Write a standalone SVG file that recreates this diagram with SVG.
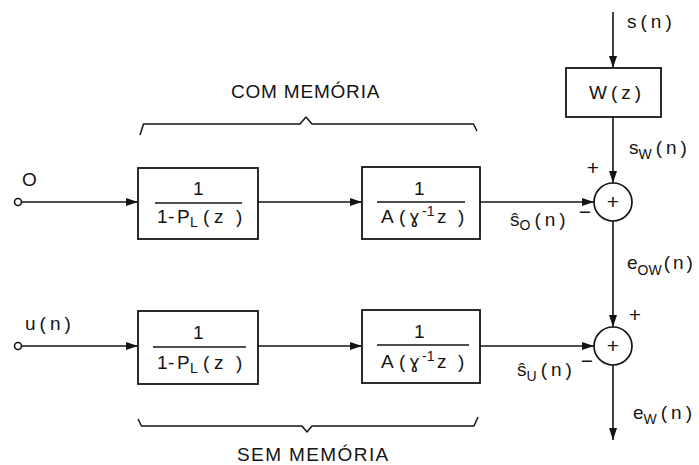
<svg xmlns="http://www.w3.org/2000/svg" width="699" height="465" viewBox="0 0 699 465">
  <style>
    .ln { stroke: #141414; stroke-width: 1.6; fill: none; }
    .box { fill: #ffffff; stroke: #141414; stroke-width: 1.8; }
    .sum { fill: #ffffff; stroke: #141414; stroke-width: 1.7; }
    .br { stroke: #141414; stroke-width: 1.5; fill: none; stroke-linejoin: round; }
    .t { font-family: "Liberation Sans", Arial, sans-serif; font-size: 19px; fill: #141414; }
    .sp { letter-spacing: 4px; }
    .sub { font-size: 14px; letter-spacing: 1px; }
    .g { font-family: "DejaVu Sans", sans-serif; font-size: 18px; }
    .sgn { font-family: "Liberation Sans", Arial, sans-serif; font-size: 21px; fill: #141414; text-anchor: middle; }
  </style>
  <defs>
    <marker id="arr" viewBox="0 0 12 8" refX="12" refY="4" markerWidth="12" markerHeight="8" markerUnits="userSpaceOnUse" orient="auto">
      <path d="M0,0 L12,4 L0,8 Z" fill="#141414"/>
    </marker>
  </defs>

  <rect width="699" height="465" fill="#ffffff"/>

  <!-- connectors -->
  <g id="connectors">
    <!-- upper path -->
    <circle cx="18" cy="202" r="3.5" class="ln"/>
    <line x1="21.5" y1="202" x2="138" y2="202" class="ln" marker-end="url(#arr)"/>
    <line x1="258" y1="202" x2="362" y2="202" class="ln" marker-end="url(#arr)"/>
    <line x1="480" y1="202" x2="594" y2="202" class="ln" marker-end="url(#arr)"/>
    <!-- lower path -->
    <circle cx="18" cy="346" r="3.5" class="ln"/>
    <line x1="21.5" y1="346" x2="138" y2="346" class="ln" marker-end="url(#arr)"/>
    <line x1="258" y1="346" x2="362" y2="346" class="ln" marker-end="url(#arr)"/>
    <line x1="480" y1="346" x2="594" y2="346" class="ln" marker-end="url(#arr)"/>
    <!-- vertical chain -->
    <line x1="613" y1="12" x2="613" y2="68" class="ln" marker-end="url(#arr)"/>
    <line x1="613" y1="117" x2="613" y2="183" class="ln" marker-end="url(#arr)"/>
    <line x1="613" y1="221" x2="613" y2="327" class="ln" marker-end="url(#arr)"/>
    <line x1="613" y1="365" x2="613" y2="440" class="ln" marker-end="url(#arr)"/>
  </g>

  <!-- brace over the upper path -->
  <g id="brace-com">
    <path class="br" d="M140,135 L143.5,124 L300,124 L306,117 L312,124 L473.5,124 L477,131"/>
    <text class="t" x="231" y="98" style="letter-spacing:0.8px">COM MEMÓRIA</text>
  </g>

  <!-- brace under the lower path -->
  <g id="brace-sem">
    <path class="br" d="M138,419 L141.5,426 L302,426 L307,432 L312,426 L474,426 L478,417"/>
    <text class="t" x="237" y="461" style="letter-spacing:1.4px">SEM MEMÓRIA</text>
  </g>

  <!-- input labels -->
  <g id="in-zero">
    <text class="t" x="22" y="186">O</text>
  </g>
  <g id="in-u">
    <text class="t sp" x="25" y="330">u(n)</text>
  </g>

  <!-- upper long-term predictor -->
  <g id="pl-upper">
    <rect class="box" x="138" y="168" width="120" height="71"/>
    <text class="t" x="193" y="195">1</text>
    <line x1="155" y1="203" x2="242" y2="203" class="ln" style="stroke-width:1.4"/>
    <text class="t" y="223"><tspan x="157">1</tspan><tspan x="168">-</tspan><tspan x="177">P</tspan><tspan x="190" dy="4" style="font-size:14px">L</tspan><tspan x="203" dy="-4">(</tspan><tspan x="214">z</tspan><tspan x="236">)</tspan></text>
  </g>

  <!-- upper synthesis filter -->
  <g id="syn-upper">
    <rect class="box" x="362" y="167" width="118" height="72"/>
    <text class="t" x="414" y="195">1</text>
    <line x1="377" y1="202" x2="465" y2="202" class="ln" style="stroke-width:1.4"/>
    <text class="t" y="223"><tspan x="381">A</tspan><tspan x="399">(</tspan><tspan x="409" class="g">ɣ</tspan><tspan x="422" dy="-7" style="font-size:14px">-1</tspan><tspan x="437" dy="7">z</tspan><tspan x="458">)</tspan></text>
  </g>

  <!-- lower long-term predictor -->
  <g id="pl-lower">
    <rect class="box" x="138" y="311" width="120" height="73"/>
    <text class="t" x="193" y="339">1</text>
    <line x1="153" y1="347" x2="246" y2="347" class="ln" style="stroke-width:1.4"/>
    <text class="t" y="369"><tspan x="157">1</tspan><tspan x="168">-</tspan><tspan x="177">P</tspan><tspan x="190" dy="4" style="font-size:14px">L</tspan><tspan x="203" dy="-4">(</tspan><tspan x="214">z</tspan><tspan x="236">)</tspan></text>
  </g>

  <!-- lower synthesis filter -->
  <g id="syn-lower">
    <rect class="box" x="362" y="310" width="118" height="73"/>
    <text class="t" x="414" y="338">1</text>
    <line x1="377" y1="345" x2="469" y2="345" class="ln" style="stroke-width:1.4"/>
    <text class="t" y="368"><tspan x="381">A</tspan><tspan x="399">(</tspan><tspan x="409" class="g">ɣ</tspan><tspan x="422" dy="-7" style="font-size:14px">-1</tspan><tspan x="437" dy="7">z</tspan><tspan x="458">)</tspan></text>
  </g>

  <!-- weighting filter -->
  <g id="weight">
    <rect class="box" x="566" y="68" width="95" height="49"/>
    <text class="t sp" x="589" y="99">W(z)</text>
    <text class="t sp" x="627" y="28">s(n)</text>
    <text class="t" x="629" y="154">s<tspan class="sub" dy="5">W</tspan><tspan class="sp" dx="3" dy="-5">(n)</tspan></text>
  </g>

  <!-- first summing junction -->
  <g id="sum-upper">
    <circle class="sum" cx="613" cy="202" r="19"/>
    <text class="sgn" x="613" y="209">+</text>
    <text class="sgn" x="593" y="175">+</text>
    <text class="sgn" x="585" y="219">−</text>
    <text class="t" x="510" y="226">ŝ<tspan class="sub" dy="4">O</tspan><tspan class="sp" dx="3" dy="-4">(n)</tspan></text>
    <text class="t" x="627" y="269">e<tspan class="sub" dy="6" style="letter-spacing:0">OW</tspan><tspan class="sp" dx="2" dy="-6" style="letter-spacing:3px">(n)</tspan></text>
  </g>

  <!-- second summing junction -->
  <g id="sum-lower">
    <circle class="sum" cx="613" cy="346" r="19"/>
    <text class="sgn" x="613" y="353">+</text>
    <text class="sgn" x="635" y="322">+</text>
    <text class="sgn" x="587" y="368">−</text>
    <text class="t" x="517" y="376">ŝ<tspan class="sub" dy="5">U</tspan><tspan class="sp" dx="3" dy="-5">(n)</tspan></text>
    <text class="t" x="633" y="419">e<tspan class="sub" dy="5">W</tspan><tspan class="sp" dx="3" dy="-5">(n)</tspan></text>
  </g>
</svg>
